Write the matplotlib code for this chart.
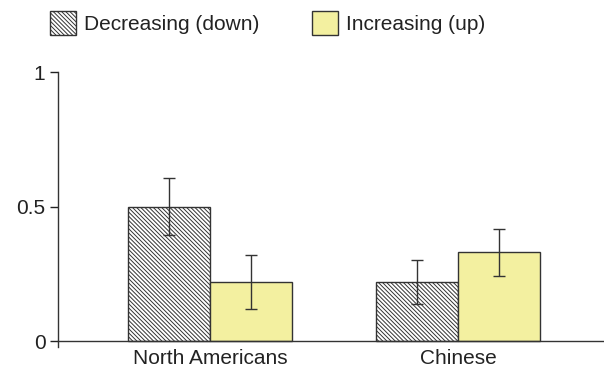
import numpy as np
import matplotlib.pyplot as plt
from matplotlib.patches import Patch

plt.rcParams['font.family'] = ['Liberation Sans', 'DejaVu Sans']
plt.rcParams['hatch.linewidth'] = 0.7

groups = ['North Americans', 'Chinese']
series = ['Decreasing (down)', 'Increasing (up)']
down_vals = [0.50, 0.22]
down_err = [0.105, 0.082]
up_vals = [0.22, 0.33]
up_err = [0.10, 0.087]

edge = '#333333'
yellow = '#f3f0a0'
hatch = r'\\\\\\\\'

fig = plt.figure(figsize=(6.04, 3.70), dpi=100)
ax = fig.add_axes([0.096, 0.062, 0.904, 0.743])

x = np.arange(len(groups))
w = 0.33
ax.bar(x - w / 2, down_vals, w, color='white', edgecolor=edge, hatch=hatch,
       linewidth=1.0, label=series[0])
ax.bar(x + w / 2, up_vals, w, color=yellow, edgecolor=edge, linewidth=1.0,
       label=series[1])
ax.errorbar(x - w / 2, down_vals, yerr=down_err, fmt='none', ecolor=edge,
            elinewidth=1.0, capsize=4, capthick=1.0)
ax.errorbar(x + w / 2, up_vals, yerr=up_err, fmt='none', ecolor=edge,
            elinewidth=1.0, capsize=4, capthick=1.0)

ax.set_xlim(-0.613, 1.589)
ax.set_ylim(-0.022, 1.0)
ax.set_yticks([0, 0.5, 1])
ax.set_yticklabels(['0', '0.5', '1'])
ax.set_xticks(x)
ax.set_xticklabels(groups)
ax.tick_params(axis='x', length=0, labelsize=15, pad=6, colors='#222222')
ax.tick_params(axis='y', length=6, width=1.0, labelsize=15, pad=3,
               colors='#222222')
ax.spines['top'].set_visible(False)
ax.spines['right'].set_visible(False)
ax.spines['bottom'].set_position(('data', 0))
for s in ('left', 'bottom'):
    ax.spines[s].set_color(edge)
    ax.spines[s].set_linewidth(1.0)

handles = [Patch(facecolor='white', edgecolor=edge, hatch=hatch),
           Patch(facecolor=yellow, edgecolor=edge)]
fig.legend(handles, series, loc='upper left', bbox_to_anchor=(0.083, 0.97),
           ncol=2, frameon=False, fontsize=15, borderpad=0, borderaxespad=0,
           handlelength=1.25, handleheight=1.4, handletextpad=0.38,
           columnspacing=2.5, labelcolor='#222222')

fig.savefig('out.png', dpi=100)
